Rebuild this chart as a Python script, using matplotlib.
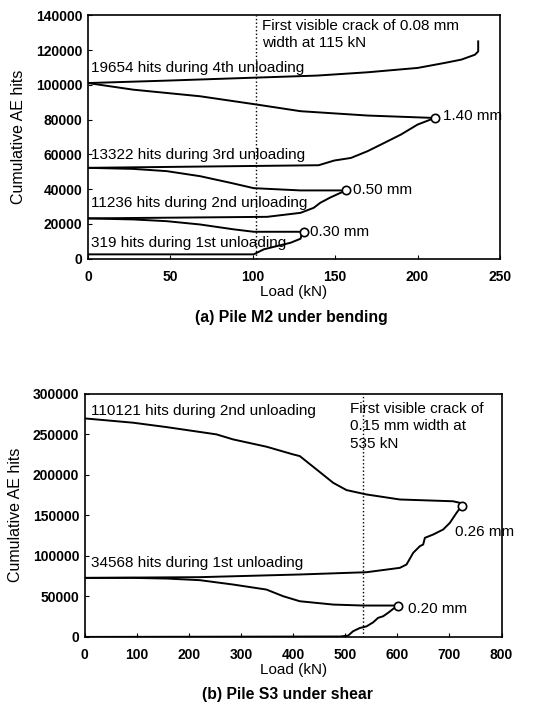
import matplotlib
matplotlib.use("Agg")
import matplotlib.pyplot as plt

plt.rcParams['font.family'] = ['Liberation Sans', 'DejaVu Sans']

# Pile M2 under bending: load (kN) vs cumulative AE hits
m2_load1 = [0, 100.6, 106.7, 114.8, 123, 129, 130, 131]
m2_hits1 = [2500, 2500, 5400, 7300, 9200, 11500, 15000, 15500]
m2_unload1_load = [131, 100.6, 88.4, 68, 47.8, 27.4, 0]
m2_unload1_hits = [15500, 15500, 16900, 19700, 21600, 22600, 23200]
m2_load2 = [0, 108.7, 129, 137, 141, 147, 151.4, 156.5]
m2_hits2 = [23200, 24100, 26400, 29300, 32200, 35200, 37100, 39300]
m2_unload2_load = [156.5, 129, 100.6, 86.4, 68, 47.8, 27.4, 0]
m2_unload2_hits = [39300, 39300, 40600, 43700, 47500, 50400, 51700, 52300]
m2_load3 = [0, 140, 149.4, 159.6, 169.7, 179.9, 190, 200, 210.4]
m2_hits3 = [52300, 53800, 56500, 58000, 61900, 66700, 71500, 77200, 81000]
m2_unload3_load = [210.4, 169.7, 129, 102.6, 68, 27.4, 0]
m2_unload3_hits = [81000, 82400, 84900, 88700, 93500, 97300, 101100]
m2_load4 = [0, 47.8, 88.4, 139, 169.7, 200, 216, 226.6, 234.8, 236.8, 236.8]
m2_hits4 = [101100, 102500, 103800, 105400, 107300, 109800, 112600, 114600, 117400, 119300, 125100]
m2_peaks_load = [131, 156.5, 210.4]
m2_peaks_hits = [15500, 39300, 81000]
m2_crack_load = 102

# Pile S3 under shear
s3_load1 = [0, 490, 505.6, 515, 528, 540.8, 553.6, 563, 572.8, 582, 592, 601.6]
s3_hits1 = [0, 500, 1600, 7000, 11000, 13000, 18000, 23500, 25500, 29600, 34600, 38700]
s3_unload1_load = [601.6, 534.4, 476.8, 412.8, 380.8, 348.8, 284.8, 220.8, 156.8, 92.8, 0]
s3_unload1_hits = [38700, 38700, 39900, 44000, 50200, 58400, 64600, 70000, 72000, 72800, 72800]
s3_load2 = [0, 220.8, 412.8, 540.8, 604.8, 617.6, 630.4, 643.2, 649.6, 652.8, 668.8,
            688, 700.8, 713.6, 723.2]
s3_hits2 = [72800, 73700, 77000, 79800, 85200, 89300, 103700, 111900, 114000, 122200, 126300,
            132500, 140700, 153000, 161300]
s3_unload2_load = [723.2, 720, 707, 604.8, 540.8, 502.4, 476.8, 444.8, 412.8, 400, 348.8,
                   284.8, 252.8, 156.8, 92.8, 0]
s3_unload2_hits = [161300, 165400, 167300, 169500, 175700, 181100, 190100, 206600, 223000,
                   225100, 234600, 243600, 249800, 258800, 264200, 269500]
s3_peaks_load = [601.6, 723.2]
s3_peaks_hits = [38700, 161300]
s3_crack_load = 535

fig = plt.figure(figsize=(5.33, 7.03), dpi=100)
ax1 = fig.add_axes([0.165, 0.632, 0.773, 0.346])
ax2 = fig.add_axes([0.159, 0.094, 0.782, 0.346])

lw = 1.4
for x, y in [(m2_load1, m2_hits1), (m2_unload1_load, m2_unload1_hits),
             (m2_load2, m2_hits2), (m2_unload2_load, m2_unload2_hits),
             (m2_load3, m2_hits3), (m2_unload3_load, m2_unload3_hits),
             (m2_load4, m2_hits4)]:
    ax1.plot(x, y, color='black', lw=lw)
ax1.plot(m2_peaks_load, m2_peaks_hits, 'o', mfc='white', mec='black', ms=6, mew=1.2)
ax1.axvline(m2_crack_load, color='black', ls=':', lw=1)

for x, y in [(s3_load1, s3_hits1), (s3_unload1_load, s3_unload1_hits),
             (s3_load2, s3_hits2), (s3_unload2_load, s3_unload2_hits)]:
    ax2.plot(x, y, color='black', lw=lw)
ax2.plot(s3_peaks_load, s3_peaks_hits, 'o', mfc='white', mec='black', ms=6, mew=1.2)
ax2.axvline(s3_crack_load, color='black', ls=':', lw=1)

fs = 11
# annotations, top panel
ax1.text(2, 109800, '19654 hits during 4th unloading', fontsize=fs, va='center')
ax1.text(2, 59600, '13322 hits during 3rd unloading', fontsize=fs, va='center')
ax1.text(2, 31800, '11236 hits during 2nd unloading', fontsize=fs, va='center')
ax1.text(2, 9200, '319 hits during 1st unloading', fontsize=fs, va='center')
ax1.text(215.4, 82000, '1.40 mm', fontsize=fs, va='center')
ax1.text(161, 39300, '0.50 mm', fontsize=fs, va='center')
ax1.text(135, 15500, '0.30 mm', fontsize=fs, va='center')
ax1.text(105.7, 138000, 'First visible crack of 0.08 mm\nwidth at 115 kN', fontsize=fs,
         va='top', linespacing=1.3)

# annotations, bottom panel
ax2.text(12.8, 278600, '110121 hits during 2nd unloading', fontsize=fs, va='center')
ax2.text(12.8, 91400, '34568 hits during 1st unloading', fontsize=fs, va='center')
ax2.text(710, 129200, '0.26 mm', fontsize=fs, va='center')
ax2.text(621, 34600, '0.20 mm', fontsize=fs, va='center')
ax2.text(508.8, 289500, 'First visible crack of\n0.15 mm width at\n535 kN', fontsize=fs,
         va='top', linespacing=1.3)

ax1.set_xlim(0, 250)
ax1.set_ylim(0, 140000)
ax1.set_xticks(range(0, 251, 50))
ax1.set_yticks(range(0, 140001, 20000))
ax2.set_xlim(0, 800)
ax2.set_ylim(0, 300000)
ax2.set_xticks(range(0, 801, 100))
ax2.set_yticks(range(0, 300001, 50000))

for ax in (ax1, ax2):
    ax.tick_params(direction='in', length=3, labelsize=10)
    ax.tick_params(axis='x', pad=8)
    ax.tick_params(axis='y', pad=4)
    for lab in ax.get_xticklabels() + ax.get_yticklabels():
        lab.set_fontweight('bold')
    for sp in ax.spines.values():
        sp.set_linewidth(1.2)
    ax.set_xlabel('Load (kN)', fontsize=11, labelpad=1)
    ax.set_ylabel('Cumulative AE hits', fontsize=11.5, labelpad=7)

fig.text(0.546, 0.549, '(a) Pile M2 under bending', fontsize=11.4, fontweight='bold',
         ha='center', va='center')
fig.text(0.539, 0.012, '(b) Pile S3 under shear', fontsize=11.3, fontweight='bold',
         ha='center', va='center')

fig.savefig('out.png', dpi=100)
